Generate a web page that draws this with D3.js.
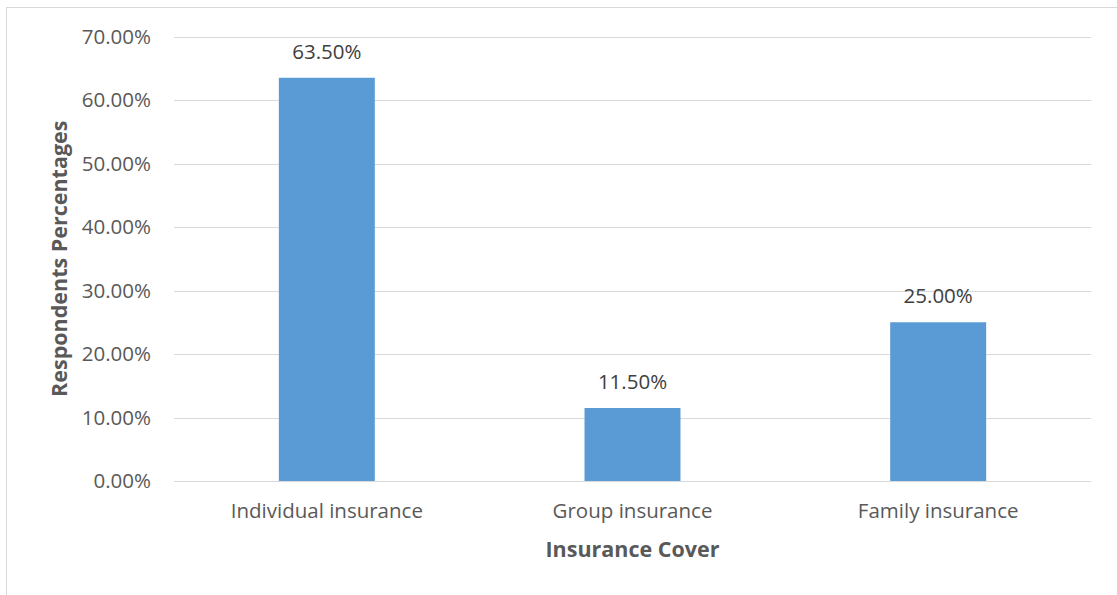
<!DOCTYPE html>
<html><head><meta charset="utf-8">
<script src="https://cdn.jsdelivr.net/npm/d3@7"></script>
<style>body{margin:0;background:#fff}svg{display:block}text{font-family:"Open Sans",sans-serif}</style>
</head><body>
<script>
const categories = ["Individual insurance", "Group insurance", "Family insurance"];
const values = [0.635, 0.115, 0.25];
const yTicks = [0, 0.1, 0.2, 0.3, 0.4, 0.5, 0.6, 0.7];
const xTitle = "Insurance Cover";
const yTitle = "Respondents Percentages";

const W = 1117, H = 595;
const m = {left: 174, right: 26, top: 36.5, bottom: 114};
const svg = d3.select("body").append("svg").attr("width", W).attr("height", H);

// chart border (cropped on right/bottom)
svg.append("rect").attr("x", 6.5).attr("y", 7.5).attr("width", W + 20).attr("height", H + 20)
  .attr("fill", "none").attr("stroke", "#D9D9D9").attr("stroke-width", 1);

const x = d3.scaleBand().domain(categories).range([m.left, W - m.right]).padding(0);
const y = d3.scaleLinear().domain([0, 0.7]).range([H - m.bottom, m.top]);
const fmt = d3.format(".2%");
const barW = x.bandwidth() * 0.314;
const FS = 20.5, FSB = 21.5;

const g = svg.append("g");
// gridlines
g.selectAll("line.grid").data(yTicks).join("line")
  .attr("x1", m.left).attr("x2", W - m.right)
  .attr("y1", d => Math.round(y(d)) + 0.5).attr("y2", d => Math.round(y(d)) + 0.5)
  .attr("stroke", "#D9D9D9").attr("stroke-width", 1);

// y tick labels
g.selectAll("text.yt").data(yTicks).join("text")
  .attr("x", 151).attr("y", d => y(d)).attr("dy", "0.35em")
  .attr("text-anchor", "end").attr("font-size", FS).attr("fill", "#595959")
  .text(d => fmt(d));

// bars
g.selectAll("rect.bar").data(values).join("rect")
  .attr("x", (d, i) => x(categories[i]) + x.bandwidth() / 2 - barW / 2)
  .attr("width", barW)
  .attr("y", d => y(d)).attr("height", d => y(0) - y(d))
  .attr("fill", "#5B9BD5");

// data labels
g.selectAll("text.dl").data(values).join("text")
  .attr("x", (d, i) => x(categories[i]) + x.bandwidth() / 2)
  .attr("y", d => y(d) - 19)
  .attr("text-anchor", "middle").attr("font-size", FS).attr("fill", "#404040")
  .text(d => fmt(d));

// x category labels
g.selectAll("text.xl").data(categories).join("text")
  .attr("x", d => x(d) + x.bandwidth() / 2).attr("y", 518)
  .attr("text-anchor", "middle").attr("font-size", FS).attr("fill", "#595959")
  .text(d => d);

// axis titles
svg.append("text").attr("x", (m.left + W - m.right) / 2).attr("y", 557)
  .attr("text-anchor", "middle").attr("font-size", FSB).attr("font-weight", "bold").attr("fill", "#595959")
  .text(xTitle);
svg.append("text").attr("transform", `translate(67,${(m.top + H - m.bottom) / 2}) rotate(-90)`)
  .attr("text-anchor", "middle").attr("font-size", FSB).attr("font-weight", "bold").attr("fill", "#595959")
  .text(yTitle);
</script>
</body></html>
